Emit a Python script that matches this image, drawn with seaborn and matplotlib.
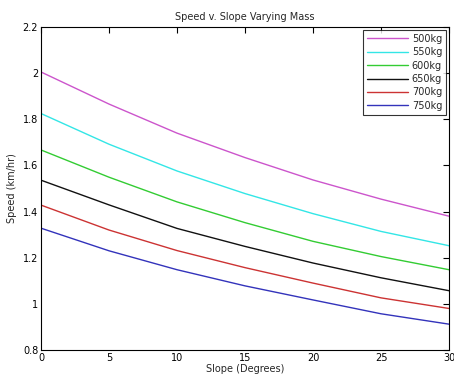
import matplotlib
matplotlib.use("Agg")
import matplotlib.pyplot as plt
import seaborn as sns
import pandas as pd
from matplotlib.ticker import FuncFormatter

slope = [0, 5, 10, 15, 20, 25, 30]
masses = ["500kg", "550kg", "600kg", "650kg", "700kg", "750kg"]
speed_500 = [2.005, 1.866, 1.740, 1.634, 1.537, 1.454, 1.380]
speed_550 = [1.825, 1.692, 1.576, 1.478, 1.391, 1.314, 1.252]
speed_600 = [1.667, 1.549, 1.442, 1.352, 1.271, 1.205, 1.148]
speed_650 = [1.536, 1.429, 1.327, 1.249, 1.177, 1.113, 1.057]
speed_700 = [1.428, 1.320, 1.231, 1.157, 1.090, 1.026, 0.980]
speed_750 = [1.328, 1.230, 1.148, 1.078, 1.017, 0.957, 0.912]
series = [speed_500, speed_550, speed_600, speed_650, speed_700, speed_750]
colors = ["#cc55cc", "#33e6e6", "#33cc33", "#111111", "#cc3333", "#3333bb"]

rows = []
for m, vals in zip(masses, series):
    for s, v in zip(slope, vals):
        rows.append({"Slope": s, "Speed": v, "Mass": m})
df = pd.DataFrame(rows)

sns.set_style("white")
plt.rcParams["font.family"] = ["DejaVu Sans"]

fig = plt.figure(figsize=(4.54, 3.77), dpi=100)
ax = fig.add_axes([41 / 454, 27 / 377, 408 / 454, 323 / 377])
sns.lineplot(data=df, x="Slope", y="Speed", hue="Mass", hue_order=masses,
             palette=colors, linewidth=1.0, ax=ax)

ax.set_xlim(0, 30)
ax.set_ylim(0.8, 2.2)
ax.set_xticks([0, 5, 10, 15, 20, 25, 30])
ax.set_yticks([0.8, 1.0, 1.2, 1.4, 1.6, 1.8, 2.0, 2.2])
ax.yaxis.set_major_formatter(FuncFormatter(lambda v, p: f"{v:g}"))
ax.tick_params(direction="in", length=4, width=0.8, labelsize=7, top=True, right=True,
               colors="black", pad=2)
for sp in ax.spines.values():
    sp.set_color("black")
    sp.set_linewidth(0.8)
ax.set_xlabel("Slope (Degrees)", fontsize=7, labelpad=1)
ax.set_ylabel("Speed (km/hr)", fontsize=7, labelpad=4)
ax.set_title("Speed v. Slope Varying Mass", fontsize=7, pad=5)

leg = ax.legend(loc="upper right", fontsize=7, frameon=True, fancybox=False,
                handlelength=4.2, borderaxespad=0.3, labelspacing=0.35,
                borderpad=0.4, handletextpad=0.4)
leg.get_frame().set_edgecolor("black")
leg.get_frame().set_linewidth(0.8)

fig.savefig("out.png", dpi=100, facecolor="white")
